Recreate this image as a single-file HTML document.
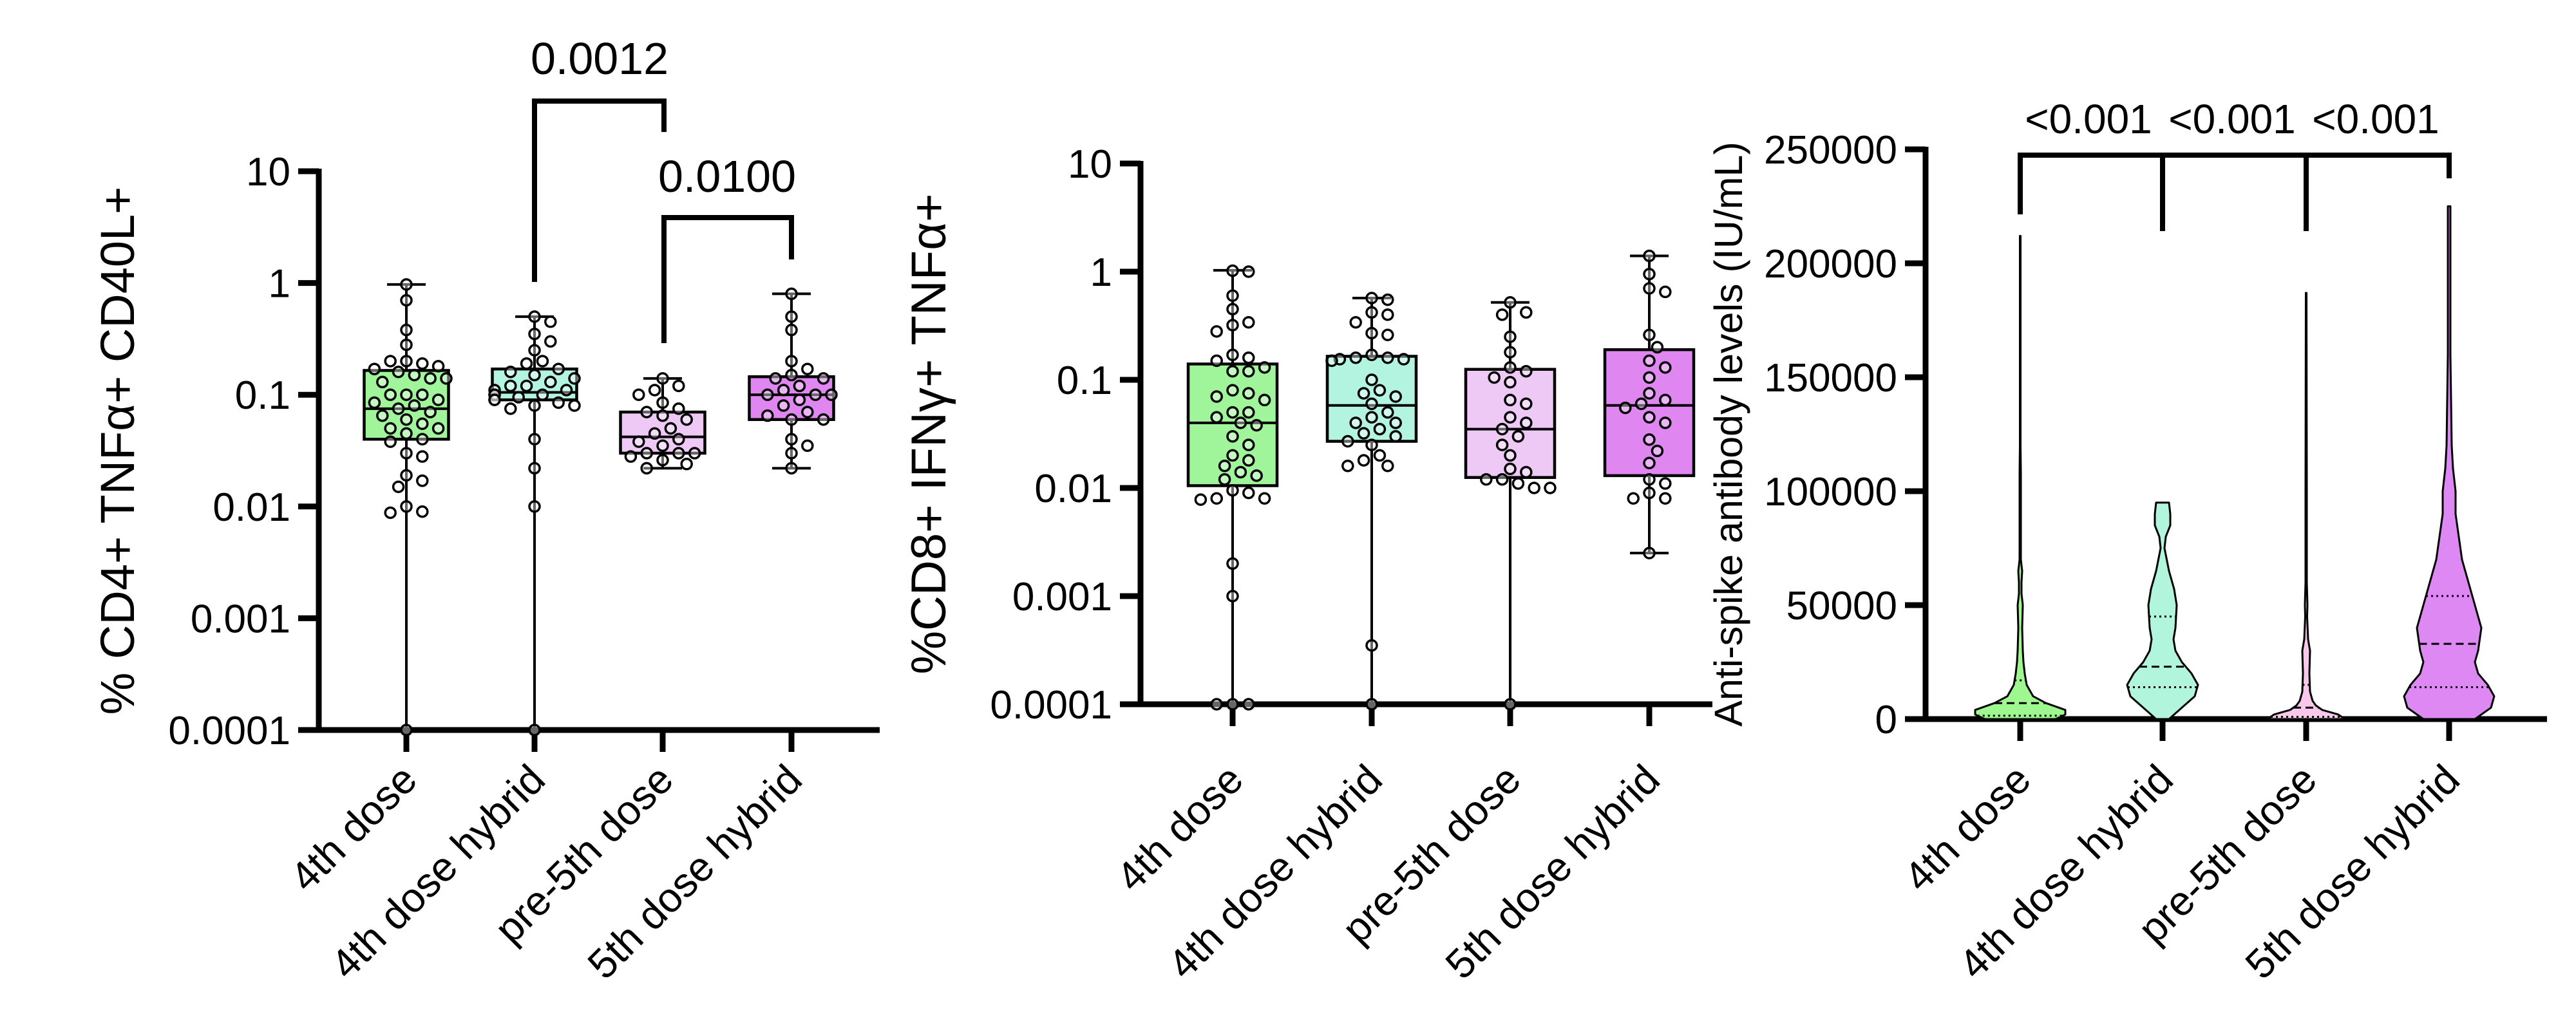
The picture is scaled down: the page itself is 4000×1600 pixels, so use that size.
<!DOCTYPE html>
<html><head><meta charset="utf-8"><style>
html,body{margin:0;padding:0;background:#fff}
svg{display:block}
text{font-family:"Liberation Sans",Arial,sans-serif;fill:#000}
</style></head><body>
<svg id="fig" width="4000" height="1600" viewBox="0 0 4000 1600" xmlns="http://www.w3.org/2000/svg"></svg>
<script>
const categories = ["4th dose","4th dose hybrid","pre-5th dose","5th dose hybrid"];
const colorsBox = ["#a0f59a","#b2f4df","#efc9f5","#df86f0"];
const colorsViolin = ["#9ef78f","#b2f5dd","#f8c7ea","#dd88f3"];
const logTicks = [10,1,0.1,0.01,0.001,0.0001];
const logTickLabels = ["10","1","0.1","0.01","0.001","0.0001"];
const linTicks = [0,50000,100000,150000,200000,250000];
const linTickLabels = ["0","50000","100000","150000","200000","250000"];

// Panel A: CD4
const cd4Points = [
 [0.97,0.7,0.38,0.28,0.2,0.19,0.2,0.18,0.17,0.16,0.15,0.14,0.14,0.13,0.1,0.1,0.1,0.09,0.085,0.08,0.075,0.07,0.065,0.06,0.055,0.05,0.05,0.045,0.04,0.038,0.03,0.028,0.019,0.017,0.015,0.01,0.009,0.0088,0.0001],
 [0.5,0.45,0.35,0.3,0.25,0.2,0.19,0.17,0.16,0.15,0.14,0.13,0.12,0.12,0.11,0.11,0.1,0.1,0.1,0.095,0.09,0.09,0.085,0.08,0.08,0.075,0.04,0.022,0.01,0.0001],
 [0.14,0.12,0.11,0.1,0.085,0.075,0.07,0.065,0.06,0.05,0.045,0.04,0.038,0.035,0.03,0.03,0.03,0.028,0.026,0.024,0.022],
 [0.8,0.5,0.38,0.2,0.17,0.15,0.14,0.14,0.12,0.11,0.1,0.1,0.1,0.09,0.08,0.07,0.065,0.06,0.06,0.04,0.035,0.03,0.022]
];
const cd4Min = [0.0001,0.0001,0.022,0.022];
const cd4Q1 = [0.04,0.09,0.03,0.06];
const cd4Med = [0.075,0.105,0.042,0.1];
const cd4Q3 = [0.165,0.17,0.07,0.145];
const cd4Max = [0.97,0.5,0.14,0.8];
const cd4SigLabels = ["0.0012","0.0100"];

// Panel B: CD8
const cd8Points = [
 [1.02,1.0,0.6,0.45,0.32,0.34,0.28,0.17,0.16,0.15,0.13,0.12,0.12,0.08,0.075,0.07,0.065,0.05,0.05,0.045,0.04,0.038,0.03,0.025,0.02,0.018,0.016,0.014,0.013,0.012,0.0095,0.009,0.008,0.008,0.0078,0.002,0.001,0.0001,0.0001,0.0001],
 [0.57,0.55,0.42,0.4,0.34,0.27,0.26,0.17,0.16,0.16,0.155,0.155,0.15,0.1,0.08,0.075,0.07,0.06,0.05,0.045,0.04,0.04,0.035,0.032,0.03,0.027,0.025,0.02,0.018,0.016,0.016,0.00035,0.0001],
 [0.52,0.42,0.4,0.25,0.18,0.13,0.12,0.105,0.095,0.065,0.06,0.045,0.04,0.035,0.03,0.025,0.02,0.015,0.014,0.012,0.012,0.011,0.01,0.01,0.0001],
 [1.4,0.95,0.7,0.65,0.26,0.2,0.15,0.13,0.105,0.075,0.065,0.06,0.055,0.045,0.04,0.028,0.022,0.017,0.012,0.011,0.009,0.008,0.008,0.0025]
];
const cd8Min = [0.0001,0.0001,0.0001,0.0025];
const cd8Q1 = [0.0105,0.027,0.0125,0.013];
const cd8Med = [0.04,0.058,0.035,0.058];
const cd8Q3 = [0.14,0.165,0.125,0.19];
const cd8Max = [1.03,0.57,0.52,1.4];

// Panel C: antibody violins (value, density)
const v1Vals = [0,2000,4000,7000,10000,15000,20000,25000,30000,40000,50000,55000,60000,65000,70000,80000,90000,100000,108000,120000,212000];
const v1Dens = [55,70,70,40,20,10,7,5,4,3,4,2,2,3,1,1,1,1,1,0.5,0.5];
const v2Vals = [0,5000,10000,15000,20000,25000,30000,35000,40000,50000,57000,65000,75000,80000,85000,90000,95000];
const v2Dens = [10,30,50,55,45,30,20,17,20,22,18,10,3,5,12,12,10];
const v3Vals = [0,2000,4000,6000,8000,12000,20000,30000,35000,45000,50000,60000,100000,187000];
const v3Dens = [60,50,25,15,10,6,5,6,3,1.5,2,1,1,0.5];
const v4Vals = [0,5000,10000,15000,20000,25000,30000,40000,50000,60000,70000,80000,90000,100000,110000,120000,140000,160000,200000,225000];
const v4Dens = [40,65,70,60,45,40,45,50,40,30,20,15,10,10,6,4,3,2,2,2];
const abMed = [7000,23000,5000,33000];
const abQ1 = [1500,14000,1000,14000];
const abQ3 = [17000,45000,15000,54000];
const abSigLabels = ["<0.001","<0.001","<0.001"];

const NS = "http://www.w3.org/2000/svg";
const fig = document.getElementById("fig");
function mk(tag, attrs, parent){
  const e = document.createElementNS(NS, tag);
  for (const k in attrs) e.setAttribute(k, attrs[k]);
  (parent||fig).appendChild(e);
  return e;
}
function txt(s, attrs, parent){ const t = mk("text", attrs, parent); t.textContent = s; return t; }

function axes(p, g, ticks, labels, ys, title, titleX, titleSize){
  const ax = mk("g", {}, g);
  
  
  const ytop = Math.min(...ticks.map(ys));
  const yl = mk("line", {x1:p.x0, y1:ytop-4, x2:p.x0, y2:p.yb+4, stroke:"#000","stroke-width":9}, ax);
  
  
  const xl = mk("line", {x1:p.x0-4, y1:p.yb, x2:p.x1, y2:p.yb, stroke:"#000","stroke-width":9}, ax);
  
  
  ticks.forEach((t,i)=>{
    const y = ys(t);
    const tl = mk("line", {x1:p.x0-32, y1:y, x2:p.x0, y2:y, stroke:"#000","stroke-width":9}, ax);
    
    
    const lb = txt(labels[i], {x:p.x0-44, y:y+22, "font-size":62, "text-anchor":"end"}, ax);
    
    
  });
  categories.forEach((c,i)=>{
    const x = p.cx[i];
    const tl = mk("line", {x1:x, y1:p.yb, x2:x, y2:p.yb+34, stroke:"#000","stroke-width":9}, ax);
    
    
    const lx = x+20, ly = 1215;
    const lb = txt(c, {x:lx, y:ly, "font-size":64, "text-anchor":"end", transform:`rotate(-45 ${lx} ${ly})`}, ax);
    
    
  });
  const cy = (ytop+p.yb)/2;
  const tt = txt(title, {x:titleX, y:cy, "font-size":titleSize, "text-anchor":"middle", transform:`rotate(-90 ${titleX} ${cy})`}, ax);
  
  
}

function boxPanel(p, name, pts, mn, q1, md, q3, mx){
  const g = mk("g", {});
  
  
  const ys = v => p.yb - (Math.log10(v) - Math.log10(0.0001)) * p.dec;
  axes(p, g, logTicks, logTickLabels, ys, p.title, p.titleX, p.titleSize);
  categories.forEach((c,i)=>{
    const x = p.cx[i], hw = p.bw/2;
    const bg = mk("g", {}, g);
    
    
    mk("line", {x1:x, y1:ys(mx[i]), x2:x, y2:ys(mn[i]), stroke:"#000","stroke-width":4}, bg);
    mk("rect", {x:x-hw, y:ys(q3[i]), width:p.bw, height:ys(q1[i])-ys(q3[i]), fill:colorsBox[i], stroke:"#000","stroke-width":4.5}, bg);
    mk("line", {x1:x-hw, y1:ys(md[i]), x2:x+hw, y2:ys(md[i]), stroke:"#000","stroke-width":4}, bg);
    mk("line", {x1:x-30, y1:ys(mx[i]), x2:x+30, y2:ys(mx[i]), stroke:"#000","stroke-width":4}, bg);
    mk("line", {x1:x-30, y1:ys(mn[i]), x2:x+30, y2:ys(mn[i]), stroke:"#000","stroke-width":4}, bg);
    const placed = [];
    const r = 8, d = 2*r+4;
    pts[i].forEach(v=>{
      const y = ys(v);
      let off = 0;
      for (let k=0;k<20;k++){
        const cand = k===0?0:(k%2? 1:-1)*Math.ceil(k/2)*d*0.62;
        if (Math.abs(cand) > hw) continue;
        if (placed.every(q=>Math.hypot(q[0]-cand,q[1]-y) >= d)) { off = cand; break; }
        off = cand;
      }
      placed.push([off,y]);
      const cEl = mk("circle", {cx:x+off, cy:y, r:r, fill:"#fff", "fill-opacity":0.4, stroke:"#000","stroke-width":3.5}, bg);
      
      
    });
  });
  return {g, ys};
}

const pA = {x0:495, x1:1366, yb:1134, dec:173.6, cx:[631,830,1029,1229], bw:131, title:"% CD4+ TNFα+ CD40L+", titleX:208, titleSize:74};
const A = boxPanel(pA, "cd4-panel", cd4Points, cd4Min, cd4Q1, cd4Med, cd4Q3, cd4Max);
function bracket(g, xa, xb, ytop, ya, yb, label, lx, ly){
  const b = mk("path", {d:`M${xa} ${ya} V${ytop} H${xb} V${yb}`, fill:"none", stroke:"#000", "stroke-width":8}, g);
  
  
  const t = txt(label, {x:lx, y:ly, "font-size":70, "text-anchor":"middle"}, g);
  
  
}
bracket(A.g, 830, 1031, 157, 438, 205, cd4SigLabels[0], 931, 115);
bracket(A.g, 1031, 1229, 338, 533, 403, cd4SigLabels[1], 1129, 298);

const pB = {x0:1771, x1:2659, yb:1094, dec:168, cx:[1914,2130,2345,2561], bw:138, title:"%CD8+ IFNγ+ TNFα+", titleX:1468, titleSize:76};
boxPanel(pB, "cd8-panel", cd8Points, cd8Min, cd8Q1, cd8Med, cd8Q3, cd8Max);

const pC = {x0:2990, x1:3955, yb:1117, cx:[3137,3358,3581,3803]};
const gC = mk("g", {});


const ysC = v => pC.yb - v/250000*(1117-232);
axes(pC, gC, linTicks, linTickLabels, ysC, "Anti-spike antibody levels (IU/mL)", 2705, 61);
const vVals = [v1Vals,v2Vals,v3Vals,v4Vals];
const vDens = [v1Dens,v2Dens,v3Dens,v4Dens];
function interp(vals, dens, v){
  for (let k=0;k<vals.length-1;k++) if (v>=vals[k] && v<=vals[k+1]) {
    const t = (v-vals[k])/(vals[k+1]-vals[k]); return dens[k]+(dens[k+1]-dens[k])*t;
  }
  return 0;
}
categories.forEach((c,i)=>{
  const x = pC.cx[i], vals = vVals[i], dens = vDens[i];
  const vg = mk("g", {}, gC);
  
  
  const right = vals.map((v,k)=>`${x+dens[k]},${ysC(v)}`);
  const left = vals.map((v,k)=>`${x-dens[k]},${ysC(v)}`).reverse();
  mk("polygon", {points: right.concat(left).join(" "), fill:colorsViolin[i], stroke:"#000", "stroke-width":3, "stroke-linejoin":"round"}, vg);
  [[abQ1[i],"3 5"],[abMed[i],"12 7"],[abQ3[i],"3 5"]].forEach(([v,da])=>{
    const w = interp(vals, dens, v);
    const l = mk("line", {x1:x-w, y1:ysC(v), x2:x+w, y2:ysC(v), stroke:"#000", "stroke-width":3, "stroke-dasharray":da}, vg);
    
    
  });
});
const sb = mk("path", {d:`M3137 333 V241 H3803 V277 M3358 241 V359 M3581 241 V359`, fill:"none", stroke:"#000", "stroke-width":8}, gC);


[3243,3466,3689].forEach((lx,k)=>{
  const t = txt(abSigLabels[k], {x:lx, y:207, "font-size":64, "text-anchor":"middle"}, gC);
  
  
});
</script>
</body></html>
